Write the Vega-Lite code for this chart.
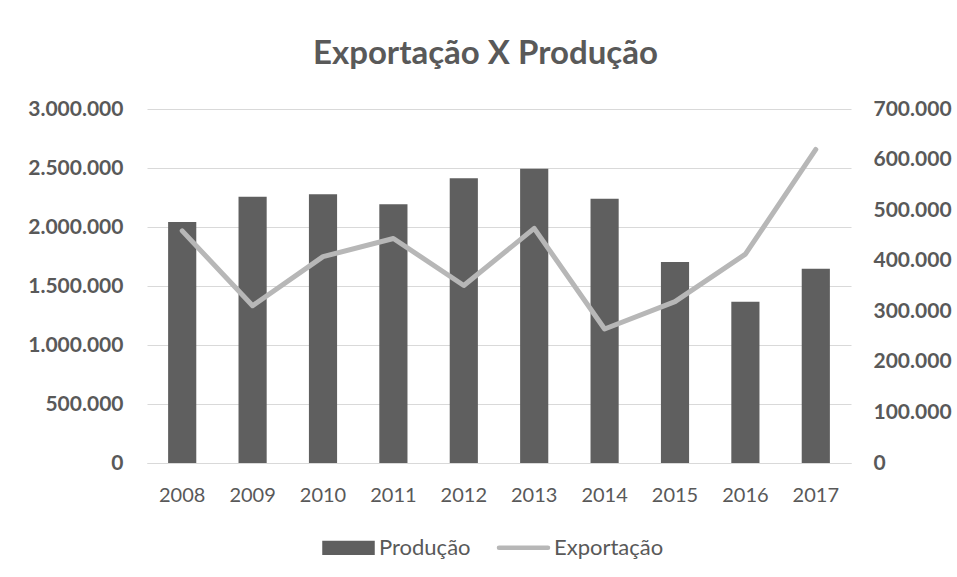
{
  "$schema": "https://vega.github.io/schema/vega-lite/v6.json",
  "width": 704,
  "height": 354,
  "autosize": {"type": "none"},
  "padding": {"left": 147, "top": 109, "right": 106, "bottom": 114},
  "background": "white",
  "title": {
    "text": "Exportação X Produção",
    "fontSize": 33,
    "font": "Lato",
    "fontWeight": "bold",
    "color": "#595959",
    "anchor": "middle",
    "frame": "bounds",
    "offset": 27,
    "dx": -4
  },
  "config": {
    "locale": {"number": {"decimal": ",", "thousands": ".", "grouping": [3], "currency": ["R$", ""]}},
    "view": {"stroke": null},
    "font": "Lato"
  },
  "data": {
    "values": [
      {"ano": "2008", "producao": 2042000, "exportacao": 459000},
      {"ano": "2009", "producao": 2257000, "exportacao": 311000},
      {"ano": "2010", "producao": 2277000, "exportacao": 408000},
      {"ano": "2011", "producao": 2192000, "exportacao": 444000},
      {"ano": "2012", "producao": 2413000, "exportacao": 351000},
      {"ano": "2013", "producao": 2494000, "exportacao": 464000},
      {"ano": "2014", "producao": 2240000, "exportacao": 265000},
      {"ano": "2015", "producao": 1703000, "exportacao": 319000},
      {"ano": "2016", "producao": 1367000, "exportacao": 413000},
      {"ano": "2017", "producao": 1647000, "exportacao": 620000}
    ]
  },
  "encoding": {
    "x": {
      "field": "ano",
      "type": "ordinal",
      "scale": {"paddingInner": 0.6, "paddingOuter": 0.3},
      "axis": {
        "title": null,
        "labelAngle": 0,
        "ticks": false,
        "domainColor": "#d9d9d9",
        "domainWidth": 1,
        "labelFontSize": 20,
        "labelColor": "#595959",
        "labelFont": "Lato",
        "labelPadding": 22,
        "grid": false
      }
    }
  },
  "layer": [
    {
      "mark": {"type": "bar"},
      "encoding": {
        "y": {
          "field": "producao",
          "type": "quantitative",
          "scale": {"domain": [0, 3000000], "nice": false},
          "axis": {
            "title": null,
            "orient": "left",
            "values": [0, 500000, 1000000, 1500000, 2000000, 2500000, 3000000],
            "format": ",.0f",
            "ticks": false,
            "domain": false,
            "grid": true,
            "gridColor": "#d9d9d9",
            "gridWidth": 1,
            "labelFontSize": 21,
            "labelFontWeight": "bold",
            "labelColor": "#595959",
            "labelFont": "Lato",
            "labelPadding": 24
          }
        },
        "color": {
          "datum": "Produção",
          "scale": {"domain": ["Produção", "Exportação"], "range": ["#5f5f5f", "#b7b7b7"]},
          "legend": {
            "title": null,
            "orient": "none",
            "legendX": 175,
            "legendY": 412,
            "direction": "horizontal",
            "symbolSize": 2601,
            "labelFontSize": 22,
            "labelColor": "#595959",
            "labelFont": "Lato",
            "columnPadding": 23,
            "labelOffset": 4,
            "encode": {
              "symbols": {
                "update": {
                  "shape": {"signal": "datum.value === 'Produção' ? 'M-1,-0.25H1V0.25H-1Z' : 'M-0.96,-0.06H0.96A0.06,0.06 0 0 1 0.96,0.06H-0.96A0.06,0.06 0 0 1 -0.96,-0.06Z'"},
                  "fill": {"scale": "color", "field": "value"},
                  "stroke": {"value": "transparent"},
                  "opacity": {"value": 1}
                }
              }
            }
          }
        }
      }
    },
    {
      "mark": {"type": "line", "strokeWidth": 5, "strokeCap": "round", "strokeJoin": "round"},
      "encoding": {
        "y": {
          "field": "exportacao",
          "type": "quantitative",
          "scale": {"domain": [0, 700000], "nice": false},
          "axis": {
            "title": null,
            "orient": "right",
            "values": [0, 100000, 200000, 300000, 400000, 500000, 600000, 700000],
            "format": ",.0f",
            "ticks": false,
            "domain": false,
            "grid": false,
            "labelFontSize": 21,
            "labelFontWeight": "bold",
            "labelColor": "#595959",
            "labelFont": "Lato",
            "labelPadding": 22
          }
        },
        "color": {"datum": "Exportação"}
      }
    }
  ],
  "resolve": {"scale": {"y": "independent"}}
}
